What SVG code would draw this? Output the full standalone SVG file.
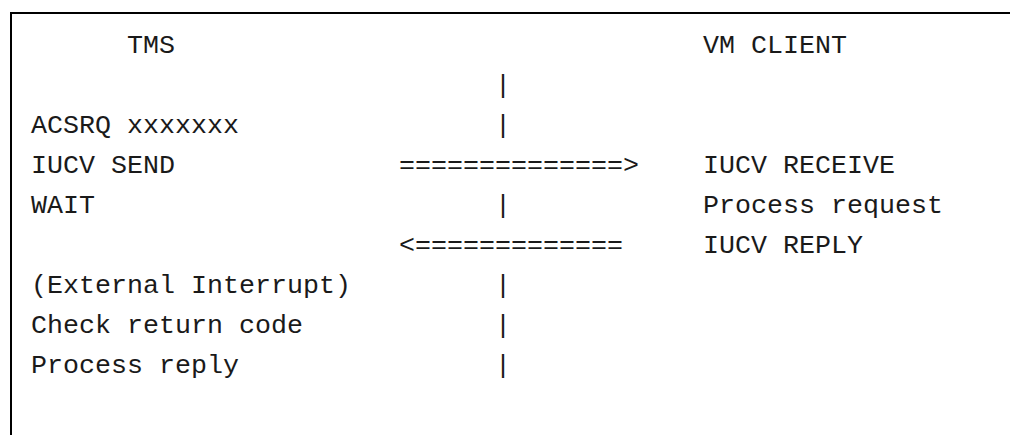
<svg xmlns="http://www.w3.org/2000/svg" width="1010" height="435" viewBox="0 0 1010 435">
<style>
text{font-family:"Liberation Mono","Courier New",monospace;font-size:26.67px;fill:#1a1a1a;white-space:pre}
.frame{fill:none;stroke:#000;stroke-width:2}
</style>
<rect width="1010" height="435" fill="#fff"/>
<path class="frame" d="M11 435 V13 H1010"/>
<g id="tms">
<text x="127" y="53">TMS</text>
<text x="31" y="133">ACSRQ xxxxxxx</text>
<text x="31" y="173">IUCV SEND</text>
<text x="31" y="213">WAIT</text>
<text x="31" y="293">(External Interrupt)</text>
<text x="31" y="333">Check return code</text>
<text x="31" y="373">Process reply</text>
</g>
<g id="vmclient">
<text x="703" y="53">VM CLIENT</text>
<text x="703" y="173">IUCV RECEIVE</text>
<text x="703" y="213">Process request</text>
<text x="703" y="253">IUCV REPLY</text>
</g>
<g id="connectors">
<text x="495" y="93">|</text>
<text x="495" y="133">|</text>
<text x="399" y="173">==============&gt;</text>
<text x="495" y="213">|</text>
<text x="399" y="253">&lt;=============</text>
<text x="495" y="293">|</text>
<text x="495" y="333">|</text>
<text x="495" y="373">|</text>
</g>
</svg>
